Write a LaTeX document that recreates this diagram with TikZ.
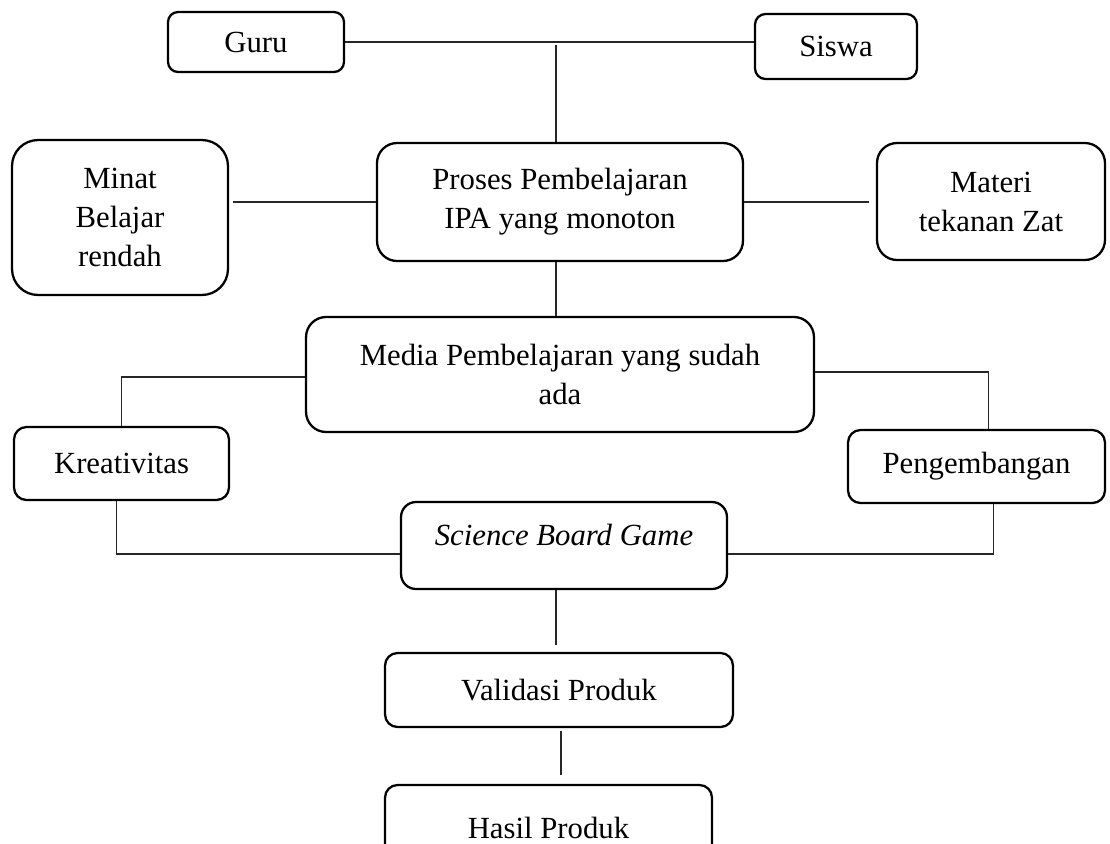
\documentclass[tikz,border=0pt]{standalone}
\usepackage{fontspec}
\setmainfont{Liberation Serif}
\usepackage{tikz}
\usetikzlibrary{positioning, calc}

\begin{document}
\begin{tikzpicture}[
                x=0.02cm, y=-0.02cm,
                box/.style={rectangle, rounded corners=#1, draw=black, line width=1.3pt, align=center, inner sep=0pt, font=\fontsize{17.5}{22.2}\selectfont},
                box/.default=0.25cm,
                link/.style={draw=black!85, line width=0.6pt}
            ]%
            \useasboundingbox (0,0) rectangle (1110,843);
            %
            % === Baris atas ===
            \node[box=0.2cm, minimum width=3.52cm, minimum height=1.2cm] (guru) at (256,42) {Guru};
            \node[box=0.21cm, minimum width=3.24cm, minimum height=1.3cm] (siswa) at (836,46.5) {Siswa};
            %
            % === Proses (tengah) ===
            \node[box=0.4cm, minimum width=7.32cm, minimum height=2.36cm] (proses) at (560,202) {Proses Pembelajaran\\IPA yang monoton};
            \node[box=0.52cm, minimum width=4.32cm, minimum height=3.1cm] (minat) at (120,217.5) {Minat\\Belajar\\rendah};
            \node[box=0.4cm, minimum width=4.56cm, minimum height=2.34cm] (materi) at (991,201.5) {Materi\\tekanan Zat};
            %
            % === Media ===
            \node[box=0.4cm, minimum width=10.16cm, minimum height=2.3cm] (media) at (560,374.5) {Media Pembelajaran yang sudah\\ada};
            \node[box, minimum width=4.3cm, minimum height=1.46cm] (kreat) at (121.5,463.5) {Kreativitas};
            \node[box, minimum width=5.14cm, minimum height=1.46cm] (pengem) at (976.5,466.5) {Pengembangan};
            %
            % === Produk ===
            \node[box=0.3cm, minimum width=6.52cm, minimum height=1.74cm, text height=0.32cm, text depth=0.32cm] (science) at (564,545.5) {\textit{Science Board Game}};
            \node[box, minimum width=6.96cm, minimum height=1.48cm] (validasi) at (559,690) {Validasi Produk};
            \node[box, minimum width=6.54cm, minimum height=1.72cm] (hasil) at (548.5,828) {Hasil Produk};
            %
            % Garis penghubung
            \draw[link] (guru.east) -- (guru.east -| siswa.west);
            \draw[link] ([xshift=-0.08cm]proses.north) -- ([xshift=-0.08cm, yshift=-0.06cm]proses.north |- guru.east);
            \draw[link, shorten >=0.08cm] (proses.west) -- (proses.west -| minat.east);
            \draw[link, shorten >=0.14cm] (proses.east) -- (proses.east -| materi.west);
            \draw[link] ([xshift=-0.08cm]proses.south) -- ([xshift=-0.08cm]proses.south |- media.north);
            \draw[link] ([yshift=-0.05cm]media.west) -| (kreat.north);
            \draw[link] ([yshift=0.05cm]media.east) -| ([xshift=0.24cm]pengem.north);
            \draw[link] ([xshift=-0.1cm]kreat.south) |- ([yshift=-0.17cm]science.west);
            \draw[link] ([xshift=0.34cm]pengem.south) |- ([yshift=-0.17cm]science.east);
            \draw[link, shorten >=0.14cm] ([xshift=-0.16cm]science.south) -- ([xshift=-0.16cm]science.south |- validasi.north);
            \draw[link, shorten <=0.06cm, shorten >=0.18cm] ([xshift=0.04cm]validasi.south) -- ([xshift=0.04cm]validasi.south |- hasil.north);
        \end{tikzpicture}
\end{document}
